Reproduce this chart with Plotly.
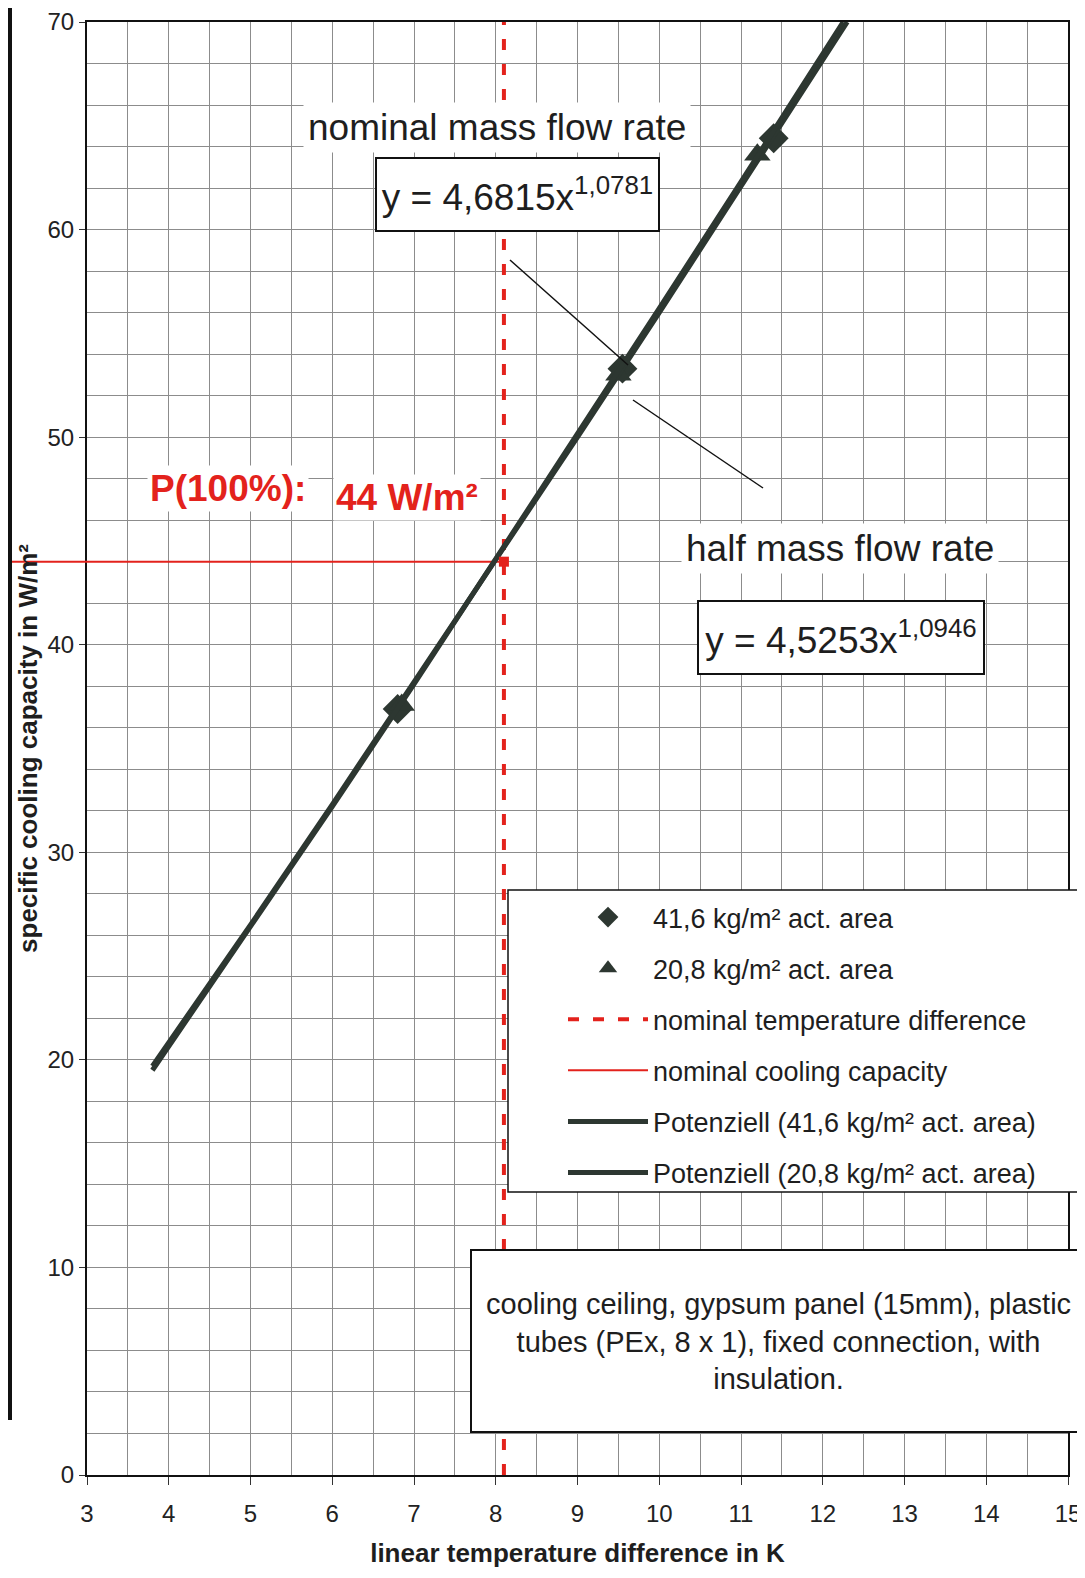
import plotly.graph_objects as go

# ---------------- data ----------------
meas_416_x = [6.80, 9.55, 11.40]
meas_416_y = [36.9, 53.3, 64.4]
meas_208_x = [6.85, 9.50, 11.20]
meas_208_y = [37.1, 53.0, 63.6]

trend_416_x = [3.8, 5, 6, 7, 8, 9, 10, 11, 12, 12.3]
trend_416_y = [19.7, 26.5, 32.3, 38.2, 44.0, 50.0, 56.0, 62.1, 68.2, 70.0]
trend_208_x = [3.8, 5, 6, 7, 8, 9, 10, 11, 12, 12.25]
trend_208_y = [19.5, 26.4, 32.2, 38.1, 44.1, 50.1, 56.2, 62.3, 68.5, 70.0]

nominal_dT = 8.1          # K
nominal_P = 44            # W/m²
y_range = [0, 70]
x_range = [3, 15]

eq_416 = "y = 4,6815x<sup>1,0781</sup>"
eq_208 = "y = 4,5253x<sup>1,0946</sup>"

x_ticks = list(range(3, 16))
y_ticks = list(range(0, 71, 10))

# ---------------- layout helpers ----------------
W, H = 1085, 1578
OFF = 8                                   # default page body margin
P_L, P_R, P_T, P_B = 87, 1068, 22, 1475   # plot box on the page
PW, PH = P_R - P_L, P_B - P_T
ML, MT = P_L - OFF, P_T - OFF
MR, MB = W - ML - PW, H - MT - PH


def px2x(px):
    return x_range[0] + (px - P_L) / PW * (x_range[1] - x_range[0])


def py2y(py):
    return y_range[0] + (P_B - py) / PH * (y_range[1] - y_range[0])


def px2p(px):
    return (px - P_L) / PW


def py2p(py):
    return (P_B - py) / PH


FONT = "Liberation Sans, Arial, sans-serif"
DARK = "#2d3731"
RED = "#e3221c"
TXT = "#1e1e1e"

fig = go.Figure()

fig.add_trace(go.Scatter(
    x=meas_416_x, y=meas_416_y, mode="markers", name="41,6 kg/m² act. area",
    legendgroup="a",
    marker=dict(symbol="diamond", size=23, color=DARK)))
fig.add_trace(go.Scatter(
    x=meas_208_x, y=meas_208_y, mode="markers", name="20,8 kg/m² act. area",
    legendgroup="b",
    marker=dict(symbol="triangle-up", size=23, color=DARK)))
fig.add_trace(go.Scatter(
    x=[nominal_dT, nominal_dT], y=y_range, mode="lines",
    name="nominal temperature difference", legendgroup="c",
    line=dict(color=RED, width=4, dash="11px,14px")))
fig.add_trace(go.Scatter(
    x=[x_range[0], nominal_dT], y=[nominal_P, nominal_P], mode="lines",
    name="nominal cooling capacity", legendgroup="d",
    line=dict(color=RED, width=2)))
fig.add_trace(go.Scatter(
    x=trend_416_x, y=trend_416_y, mode="lines",
    name="Potenziell (41,6 kg/m² act. area)", legendgroup="e",
    line=dict(color=DARK, width=5)))
fig.add_trace(go.Scatter(
    x=trend_208_x, y=trend_208_y, mode="lines",
    name="Potenziell (20,8 kg/m² act. area)", legendgroup="f",
    line=dict(color=DARK, width=5)))
fig.add_trace(go.Scatter(
    x=[nominal_dT], y=[nominal_P], mode="markers", showlegend=False,
    marker=dict(symbol="square", size=10, color=RED)))

shapes = []
# red line extension to the left of the axis
shapes.append(dict(type="line", xref="paper", yref="y", x0=px2p(0), x1=0,
                   y0=nominal_P, y1=nominal_P, line=dict(color=RED, width=2)))
# pointer lines
shapes.append(dict(type="line", xref="x", yref="y",
                   x0=px2x(510), y0=py2y(260), x1=px2x(628), y1=py2y(365),
                   line=dict(color="#111", width=1.5)))
shapes.append(dict(type="line", xref="x", yref="y",
                   x0=px2x(633), y0=py2y(400), x1=px2x(763), y1=py2y(488),
                   line=dict(color="#111", width=1.5)))
# legend frame
shapes.append(dict(type="rect", xref="paper", yref="paper", layer="above",
                   x0=px2p(508), x1=px2p(1100), y0=py2p(1192), y1=py2p(890),
                   fillcolor="white", line=dict(color="#111", width=1.5)))
# description box
shapes.append(dict(type="rect", xref="paper", yref="paper", layer="above",
                   x0=px2p(471), x1=px2p(1100), y0=py2p(1432), y1=py2p(1250),
                   fillcolor="white", line=dict(color="#111", width=2)))
# scan page border at the far left
shapes.append(dict(type="line", xref="paper", yref="paper",
                   x0=px2p(10), x1=px2p(10), y0=py2p(1420), y1=py2p(0),
                   line=dict(color="#111", width=4)))

annotations = [
    dict(x=px2x(497), y=py2y(127), xref="x", yref="y", showarrow=False,
         xanchor="center", yanchor="middle",
         text="nominal mass flow rate", font=dict(size=37, color=TXT, family=FONT),
         bgcolor="white", borderpad=4),
    dict(x=px2x(517.5), y=py2y(194.5), xref="x", yref="y", showarrow=False,
         xanchor="center", yanchor="middle",
         text=eq_416, font=dict(size=37, color=TXT, family=FONT),
         bgcolor="white", bordercolor="#111", borderwidth=2, borderpad=0,
         width=281, height=71),
    dict(x=px2x(840), y=py2y(548), xref="x", yref="y", showarrow=False,
         xanchor="center", yanchor="middle",
         text="half mass flow rate", font=dict(size=37, color=TXT, family=FONT),
         bgcolor="white", borderpad=4),
    dict(x=px2x(841), y=py2y(637.5), xref="x", yref="y", showarrow=False,
         xanchor="center", yanchor="middle",
         text=eq_208, font=dict(size=37, color=TXT, family=FONT),
         bgcolor="white", bordercolor="#111", borderwidth=2, borderpad=0,
         width=284, height=71),
    dict(x=px2x(228), y=py2y(488), xref="x", yref="y", showarrow=False,
         xanchor="center", yanchor="middle",
         text="<b>P(100%):</b>", font=dict(size=37, color=RED, family=FONT),
         bgcolor="white", borderpad=2),
    dict(x=px2x(407), y=py2y(497), xref="x", yref="y", showarrow=False,
         xanchor="center", yanchor="middle",
         text="<b>44 W/m²</b>", font=dict(size=37, color=RED, family=FONT),
         bgcolor="white", borderpad=2),
    dict(x=px2p(778), y=py2p(1341), xref="paper", yref="paper", showarrow=False,
         xanchor="center", yanchor="middle",
         text="cooling ceiling, gypsum panel (15mm), plastic<br>"
              "tubes (PEx, 8 x 1), fixed connection, with<br>insulation.",
         font=dict(size=29, color=TXT, family=FONT), align="center"),
]

fig.update_layout(
    width=W, height=H,
    margin=dict(l=ML, r=MR, t=MT, b=MB, autoexpand=False),
    paper_bgcolor="white", plot_bgcolor="white",
    font=dict(family=FONT, color=TXT),
    shapes=shapes, annotations=annotations,
    legend=dict(x=px2p(563), y=py2p(893), xanchor="left", yanchor="top",
                bgcolor="rgba(0,0,0,0)", borderwidth=0,
                font=dict(size=27, color=TXT, family=FONT),
                itemwidth=80, tracegroupgap=13),
    showlegend=True,
)

fig.update_xaxes(
    range=x_range, tickvals=x_ticks, ticks="outside", ticklen=8,
    tickcolor="#333", tickfont=dict(size=24, color="#222"),
    ticklabelstandoff=8,
    showline=True, linecolor="#111", linewidth=2, mirror=True,
    showgrid=True, gridcolor="#8c8c8c", gridwidth=1,
    minor=dict(dtick=0.5, showgrid=True, gridcolor="#8c8c8c", gridwidth=1),
    zeroline=False, automargin=False,
    title=dict(text="<b>linear temperature difference in K</b>",
               font=dict(size=26, color=TXT), standoff=18),
)
fig.update_yaxes(
    range=y_range, tickvals=y_ticks, ticks="outside", ticklen=6,
    tickcolor="#333", tickfont=dict(size=24, color="#222"),
    showline=True, linecolor="#111", linewidth=2, mirror=True,
    showgrid=True, gridcolor="#8c8c8c", gridwidth=1,
    minor=dict(dtick=2, showgrid=True, gridcolor="#8c8c8c", gridwidth=1),
    zeroline=False, automargin=False,
    title=dict(text="<b>specific cooling capacity in W/m²</b>",
               font=dict(size=26, color=TXT), standoff=2),
)

fig.write_html("out.html")
